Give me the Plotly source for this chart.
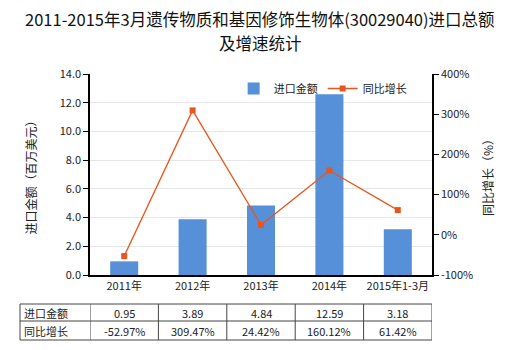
import plotly.graph_objects as go

categories = ["2011年", "2012年", "2013年", "2014年", "2015年1-3月"]
import_values = [0.95, 3.89, 4.84, 12.59, 3.18]
growth_pct = [-52.97, 309.47, 24.42, 160.12, 61.42]
left_ticks = [0, 2, 4, 6, 8, 10, 12, 14]
right_ticks = [-100, 0, 100, 200, 300, 400]
title_lines = ["2011-2015年3月遗传物质和基因修饰生物体(30029040)进口总额", "及增速统计"]

BAR_COLOR = "#5590D9"
LINE_COLOR = "#E8561E"
FONT = "Microsoft YaHei, Noto Sans CJK SC, sans-serif"

fig = go.Figure()
fig.add_trace(go.Bar(
    x=list(range(len(categories))), y=import_values, name="进口金额",
    marker=dict(color=BAR_COLOR, line=dict(width=0)), width=0.41,
    yaxis="y",
))
fig.add_trace(go.Scatter(
    x=list(range(len(categories))), y=growth_pct, name="同比增长",
    mode="lines+markers", line=dict(color=LINE_COLOR, width=1.3),
    marker=dict(symbol="square", size=6, color=LINE_COLOR),
    yaxis="y2",
))

H = 350
MT, MB = 74, 75
plot_h = H - MT - MB

def py(pix):
    return (H - MB - pix) / plot_h  # paper y from pixel y

fig.update_layout(
    width=520, height=H,
    margin=dict(l=90, r=88, t=MT, b=MB),
    paper_bgcolor="white", plot_bgcolor="white",
    font=dict(family=FONT, size=11, color="#222"),
    showlegend=True,
    legend=dict(orientation="h", x=0.42, y=1.0, xanchor="left", yanchor="top",
                bgcolor="rgba(0,0,0,0)", font=dict(size=11, color="#222"),
                itemwidth=30, tracegroupgap=0),
    xaxis=dict(
        range=[-0.5, len(categories) - 0.5],
        tickvals=list(range(len(categories))), ticktext=categories,
        showline=True, linecolor="black", linewidth=1.5,
        ticks="", showgrid=False, zeroline=False,
        tickfont=dict(size=11, color="#222"),
    ),
    yaxis=dict(
        range=[0, 14], tickvals=left_ticks,
        ticktext=[f"{v:.1f}" for v in left_ticks],
        showline=True, linecolor="black", linewidth=1.5,
        ticks="outside", ticklen=5, tickcolor="black",
        showgrid=True, gridcolor="#E6E6E6", zeroline=False,
        tickfont=dict(size=11, color="#222"),
        title=dict(text="进口金额（百万美元）", font=dict(size=12, color="#222"), standoff=20),
    ),
    yaxis2=dict(
        range=[-100, 400], tickvals=right_ticks,
        ticktext=[f"{v}%" for v in right_ticks],
        overlaying="y", side="right",
        showline=True, linecolor="black", linewidth=1.5,
        ticks="outside", ticklen=5, tickcolor="black",
        showgrid=False, zeroline=False,
        tickfont=dict(size=11, color="#222"),
        title=dict(text="同比增长（%）", font=dict(size=12, color="#222"), standoff=12),
    ),
)

# Data table below the chart
row_lines = [304, 321, 340]
left_edge = -70 / 342
shapes = []
line_style = dict(color="#444", width=1)
for ry in row_lines:
    shapes.append(dict(type="line", xref="paper", yref="paper",
                       x0=left_edge, x1=1.0, y0=py(ry), y1=py(ry), line=line_style))
shapes.append(dict(type="line", xref="paper", yref="paper", x0=left_edge, x1=left_edge,
                   y0=py(row_lines[0]), y1=py(row_lines[-1]), line=line_style))
for v in [-0.5 + i for i in range(len(categories) + 1)]:
    shapes.append(dict(type="line", xref="x", yref="paper", x0=v, x1=v,
                       y0=py(row_lines[0]), y1=py(row_lines[-1]), line=line_style))

annotations = []
for k, (t, ypix) in enumerate(zip(title_lines, [19, 43])):
    annotations.append(dict(text=t, xref="paper", yref="paper", x=(260 - 90) / 342,
                            y=py(ypix), xanchor="center", yanchor="middle",
                            showarrow=False, font=dict(size=16.5, color="#111")))
row_labels = ["进口金额", "同比增长"]
row_values = [[f"{v:.2f}" for v in import_values], [f"{v:.2f}%" for v in growth_pct]]
for r in range(2):
    ymid = py((row_lines[r] + row_lines[r + 1]) / 2)
    annotations.append(dict(text=row_labels[r], xref="paper", yref="paper",
                            x=-68 / 342, y=ymid, xanchor="left", yanchor="middle",
                            showarrow=False, font=dict(size=11, color="#222")))
    for i, t in enumerate(row_values[r]):
        annotations.append(dict(text=t, xref="x", yref="paper", x=i, y=ymid,
                                xanchor="center", yanchor="middle", showarrow=False,
                                font=dict(size=11, color="#222")))

fig.update_layout(shapes=shapes, annotations=annotations)
fig.write_html("out.html")
